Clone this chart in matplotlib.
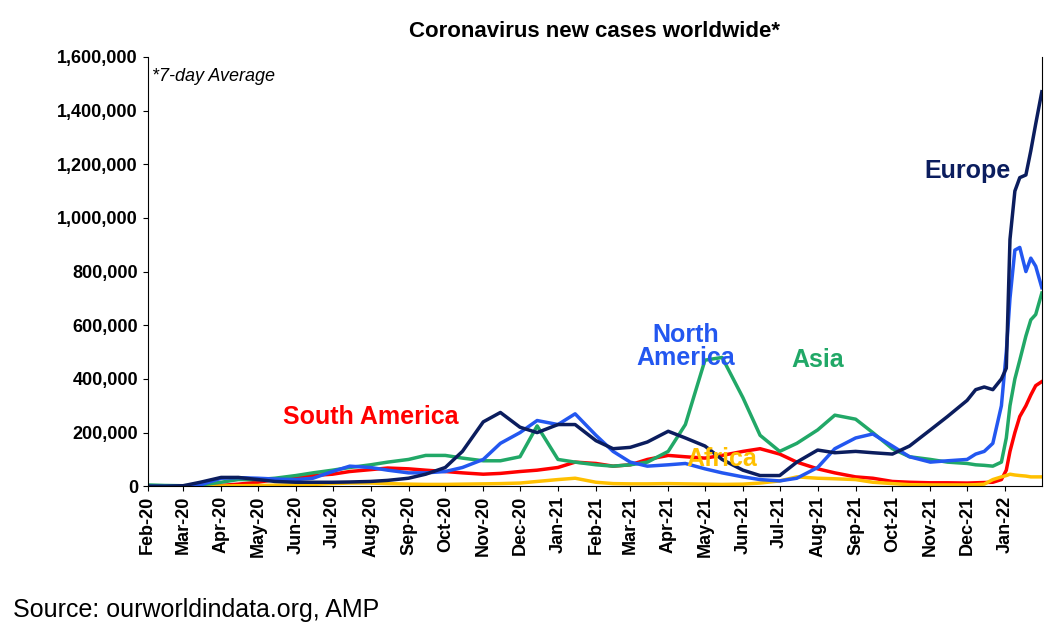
import numpy as np
import pandas as pd
import matplotlib
matplotlib.use('Agg')
import matplotlib.pyplot as plt
import matplotlib.dates as mdates

plt.rcParams['font.family'] = ['Liberation Sans', 'DejaVu Sans']

# semi-monthly grid Feb-20 .. Nov-21, then denser points in Dec-21 / Jan-22
semi = pd.date_range('2020-02-01', '2021-11-30', freq='SMS')
late = pd.to_datetime(['2021-12-01', '2021-12-08', '2021-12-15', '2021-12-22', '2021-12-29',
                       '2022-01-02', '2022-01-05', '2022-01-09', '2022-01-13', '2022-01-18',
                       '2022-01-22', '2022-01-26', '2022-01-31'])
dates = semi.append(late)

# values in thousands
europe = [0, 0, 2, 15, 33, 33, 25, 18, 15, 15, 15, 16, 18, 22, 30, 45, 70, 130, 240, 275, 220, 200,
          230, 230, 170, 140, 145, 165, 205, 180, 150, 100, 60, 40, 40, 90, 135, 125, 130, 125, 120, 150, 210, 260,
          320, 360, 370, 360, 400, 440, 920, 1100, 1150, 1160, 1250, 1350, 1470]
north_america = [0, 0, 0, 5, 30, 32, 30, 27, 25, 30, 55, 75, 70, 60, 50, 50, 55, 70, 100, 160, 200, 245,
                 230, 270, 190, 130, 90, 75, 80, 85, 65, 50, 35, 25, 20, 30, 70, 140, 180, 195, 150, 110, 90, 95,
                 100, 120, 130, 160, 300, 500, 700, 880, 890, 800, 850, 820, 740]
asia = [5, 3, 2, 5, 15, 25, 25, 30, 40, 50, 60, 70, 80, 90, 100, 115, 115, 105, 95, 95, 110, 225,
        100, 90, 80, 75, 80, 90, 130, 230, 470, 480, 330, 190, 130, 160, 210, 265, 250, 200, 140, 110, 100, 90,
        85, 80, 78, 75, 90, 180, 300, 400, 470, 560, 620, 640, 720]
south_america = [0, 0, 0, 0, 3, 8, 15, 25, 35, 40, 45, 55, 62, 68, 65, 60, 55, 50, 45, 48, 55, 60,
                 70, 90, 85, 75, 80, 100, 115, 110, 105, 115, 130, 140, 120, 90, 65, 50, 35, 30, 18, 15, 13, 13,
                 12, 13, 14, 15, 25, 60, 130, 200, 260, 300, 340, 375, 390]
africa = [0, 0, 0, 0, 1, 2, 3, 4, 5, 7, 10, 12, 12, 10, 8, 7, 7, 8, 9, 10, 12, 18,
          25, 30, 15, 10, 9, 9, 10, 9, 8, 7, 8, 12, 20, 35, 30, 28, 25, 15, 10, 6, 5, 5,
          5, 6, 8, 25, 35, 40, 45, 42, 40, 38, 35, 35, 35]

series = [
    ('South America', south_america, '#ff0000'),
    ('Africa', africa, '#ffc000'),
    ('Asia', asia, '#21a867'),
    ('North America', north_america, '#2357f0'),
    ('Europe', europe, '#0b1d5e'),
]

fig = plt.figure(figsize=(10.62, 6.39), dpi=100)
ax = fig.add_axes([0.139, 0.239, 0.842, 0.672])
for name, vals, col in series:
    ax.plot(dates, np.array(vals) * 1000, color=col, lw=2.5)

ax.set_ylim(0, 1600000)
ax.set_xlim(pd.Timestamp('2020-02-01'), pd.Timestamp('2022-01-31'))
ax.yaxis.set_major_formatter(matplotlib.ticker.FuncFormatter(lambda v, p: f'{int(v):,}'))
ax.xaxis.set_major_locator(mdates.MonthLocator())
ax.xaxis.set_major_formatter(mdates.DateFormatter('%b-%y'))
for lab in ax.get_xticklabels():
    lab.set_rotation(90)
ax.tick_params(labelsize=13)
for lab in ax.get_xticklabels() + ax.get_yticklabels():
    lab.set_fontweight('bold')
ax.spines['top'].set_visible(False)

ax.set_title('Coronavirus new cases worldwide*', fontsize=16, fontweight='bold', pad=14)
ax.text(0.005, 0.975, '*7-day Average', transform=ax.transAxes, fontsize=13, style='italic', va='top')

lbl = dict(fontsize=18, fontweight='bold', ha='center', va='center')
ax.text(pd.Timestamp('2021-12-01'), 1175000, 'Europe', color='#0b1d5e', **lbl)
ax.text(pd.Timestamp('2021-04-15'), 520000, 'North\nAmerica', color='#2357f0', linespacing=0.95, **lbl)
ax.text(pd.Timestamp('2021-08-01'), 470000, 'Asia', color='#21a867', **lbl)
ax.text(pd.Timestamp('2021-05-15'), 100000, 'Africa', color='#ffc000', **lbl)
ax.text(pd.Timestamp('2020-08-01'), 260000, 'South America', color='#ff0000', **lbl)

fig.text(0.012, 0.035, 'Source: ourworldindata.org, AMP', fontsize=18)
fig.savefig('out.png', dpi=100)
